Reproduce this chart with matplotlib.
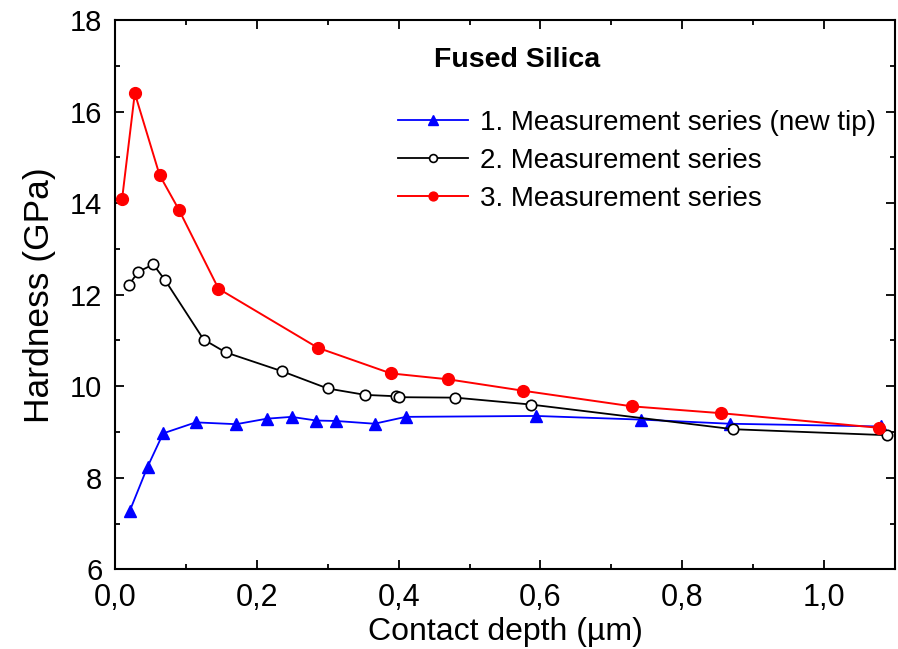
import numpy as np
import matplotlib
matplotlib.use("Agg")
import matplotlib.pyplot as plt
from matplotlib.ticker import MultipleLocator, FuncFormatter

# Hardness vs contact depth, fused silica reference sample
depth_1 = [0.021, 0.046, 0.068, 0.114, 0.171, 0.214, 0.249, 0.284, 0.312, 0.366, 0.410,
           0.594, 0.742, 0.867, 1.080]
hard_1 = [7.28, 8.24, 8.97, 9.21, 9.17, 9.29, 9.33, 9.25, 9.24, 9.18, 9.33,
          9.35, 9.27, 9.18, 9.12]

depth_2 = [0.020, 0.033, 0.054, 0.071, 0.125, 0.156, 0.235, 0.300, 0.353, 0.397, 0.400,
           0.480, 0.586, 0.872, 1.088]
hard_2 = [12.22, 12.50, 12.66, 12.31, 11.02, 10.74, 10.33, 9.95, 9.81, 9.78, 9.76,
          9.75, 9.60, 9.06, 8.93]

depth_3 = [0.010, 0.028, 0.063, 0.090, 0.146, 0.286, 0.389, 0.470, 0.576, 0.729, 0.855, 1.078]
hard_3 = [14.08, 16.40, 14.61, 13.86, 12.13, 10.84, 10.28, 10.15, 9.90, 9.56, 9.41, 9.09]

labels = ["1. Measurement series (new tip)", "2. Measurement series", "3. Measurement series"]

plt.rcParams["font.family"] = ["Liberation Sans", "DejaVu Sans"]

fig = plt.figure(figsize=(8.98, 6.49), dpi=100)
ax = fig.add_axes([0.128, 0.1228, 0.8687, 0.8464])

ax.plot(depth_1, hard_1, color="blue", lw=1.3, marker="^", ms=9,
        mfc="blue", mec="blue", label=labels[0])
ax.plot(depth_2, hard_2, color="black", lw=1.3, marker="o", ms=7.5,
        mfc="white", mec="black", mew=1.2, label=labels[1])
ax.plot(depth_3, hard_3, color="red", lw=1.4, marker="o", ms=8.5,
        mfc="red", mec="red", label=labels[2])

ax.set_xlim(0, 1.1)
ax.set_ylim(6, 18)
ax.xaxis.set_major_locator(MultipleLocator(0.2))
ax.xaxis.set_minor_locator(MultipleLocator(0.1))
ax.yaxis.set_major_locator(MultipleLocator(2))
ax.yaxis.set_minor_locator(MultipleLocator(1))
ax.xaxis.set_major_formatter(FuncFormatter(lambda v, p: f"{v:.1f}".replace(".", ",")))
ax.yaxis.set_major_formatter(FuncFormatter(lambda v, p: f"{v:.0f}"))

for s in ax.spines.values():
    s.set_linewidth(1.5)
ax.tick_params(which="both", direction="in", top=True, right=True, width=1.3)
ax.tick_params(which="major", length=6.5)
ax.tick_params(which="minor", length=3.3)
ax.tick_params(axis="y", which="major", labelsize=21, pad=9)
ax.tick_params(axis="x", which="major", labelsize=22, pad=10)

ax.set_xlabel("Contact depth (µm)", fontsize=23, labelpad=3)
ax.set_ylabel("Hardness (GPa)", fontsize=25.5, labelpad=10)

ax.text(0.516, 0.928, "Fused Silica", transform=ax.transAxes, ha="center", va="center",
        fontsize=20.5, fontweight="bold")

ax.legend(loc="upper left", bbox_to_anchor=(0.3455, 0.862), frameon=False, fontsize=20,
          handlelength=2.5, handletextpad=0.45, labelspacing=0.43, borderpad=0,
          markerscale=0.75)

fig.savefig("out.png", dpi=100)
